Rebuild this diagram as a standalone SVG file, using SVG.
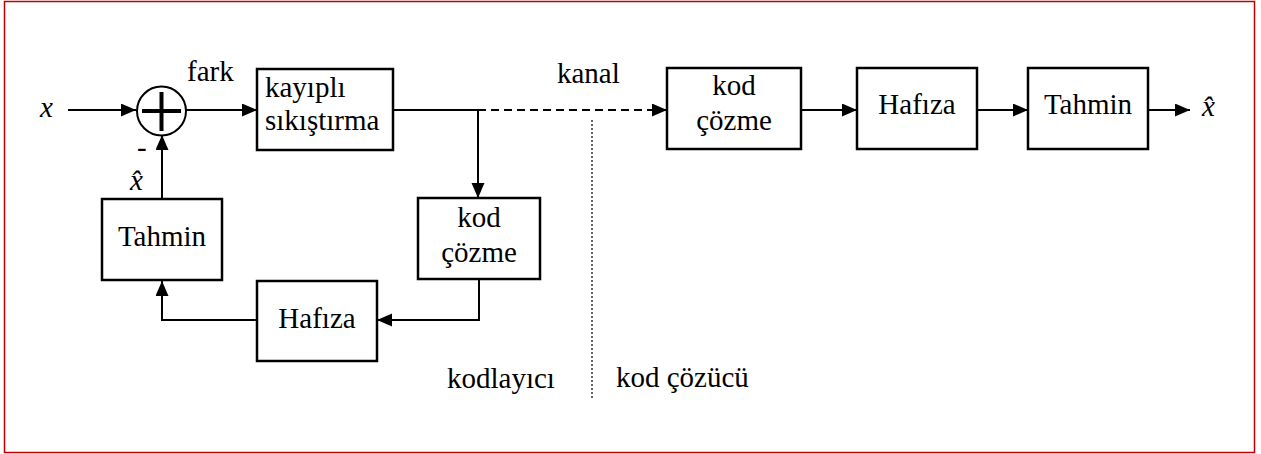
<svg xmlns="http://www.w3.org/2000/svg" width="1261" height="454" viewBox="0 0 1261 454">
<style>
.box{fill:#fff;stroke:#000;stroke-width:2.5}
.t{font-family:"Liberation Serif","Times New Roman",serif;font-size:29px;fill:#000}
.c{text-anchor:middle}
.i{font-style:italic}
.ln{fill:none;stroke:#000;stroke-width:2}
.dash{stroke-dasharray:8 5}
</style>
<defs>
<marker id="ah" markerUnits="userSpaceOnUse" markerWidth="16" markerHeight="14" refX="15" refY="6.5" orient="auto">
<path d="M0,0 L15,6.5 L0,13 Z" fill="#000"/>
</marker>
</defs>
<rect x="4.5" y="1.5" width="1250" height="451" fill="#fff" stroke="#c00000" stroke-width="1.5"/>

<g id="connectors">
<line class="ln" x1="68" y1="110" x2="136" y2="110" marker-end="url(#ah)"/>
<line class="ln" x1="186" y1="110" x2="257" y2="110" marker-end="url(#ah)"/>
<line class="ln" x1="162" y1="199" x2="162" y2="135" marker-end="url(#ah)"/>
<polyline class="ln" points="393,110 478,110"/>
<line class="ln dash" x1="478" y1="110" x2="667" y2="110" marker-end="url(#ah)"/>
<line class="ln" x1="478" y1="110" x2="478" y2="198" marker-end="url(#ah)"/>
<polyline class="ln" points="479,279 479,320 377,320" marker-end="url(#ah)"/>
<polyline class="ln" points="257,320 162,320 162,281" marker-end="url(#ah)"/>
<line class="ln" x1="801" y1="110" x2="857" y2="110" marker-end="url(#ah)"/>
<line class="ln" x1="977" y1="110" x2="1028" y2="110" marker-end="url(#ah)"/>
<line class="ln" x1="1148" y1="110" x2="1190" y2="110" marker-end="url(#ah)"/>
<line x1="592" y1="120" x2="592" y2="400" stroke="#000" stroke-width="1.2" stroke-dasharray="2 2"/>
</g>

<g id="sum">
<circle cx="161.5" cy="111" r="24.5" fill="#fff" stroke="#000" stroke-width="2"/>
<line x1="142" y1="111" x2="181" y2="111" stroke="#000" stroke-width="4"/>
<line x1="161.5" y1="92" x2="161.5" y2="131" stroke="#000" stroke-width="4"/>
</g>

<g id="lossy">
<rect class="box" x="257" y="69" width="136" height="81"/>
<text class="t" x="265" y="97">kayıplı</text>
<text class="t" x="265" y="130">sıkıştırma</text>
</g>

<g id="enc-decode">
<rect class="box" x="418" y="198" width="122" height="81"/>
<text class="t c" x="479" y="227">kod</text>
<text class="t c" x="479" y="262">çözme</text>
</g>

<g id="enc-memory">
<rect class="box" x="257" y="281" width="120" height="80"/>
<text class="t c" x="317" y="328">Hafıza</text>
</g>

<g id="enc-predict">
<rect class="box" x="102" y="199" width="120" height="81"/>
<text class="t c" x="162" y="246">Tahmin</text>
</g>

<g id="dec-decode">
<rect class="box" x="667" y="68" width="134" height="81"/>
<text class="t c" x="734" y="95">kod</text>
<text class="t c" x="734" y="130">çözme</text>
</g>

<g id="dec-memory">
<rect class="box" x="857" y="68" width="120" height="81"/>
<text class="t c" x="917" y="114">Hafıza</text>
</g>

<g id="dec-predict">
<rect class="box" x="1028" y="68" width="120" height="81"/>
<text class="t c" x="1088" y="114">Tahmin</text>
</g>

<g id="labels">
<text class="t i" x="40" y="117">x</text>
<text class="t" x="187" y="81">fark</text>
<text class="t" x="137" y="157">-</text>
<text class="t i" x="130" y="190">x̂</text>
<text class="t" x="557" y="83">kanal</text>
<text class="t i" x="1202" y="116">x̂</text>
<text class="t" x="447" y="388">kodlayıcı</text>
<text class="t" x="616" y="387">kod çözücü</text>
</g>
</svg>
